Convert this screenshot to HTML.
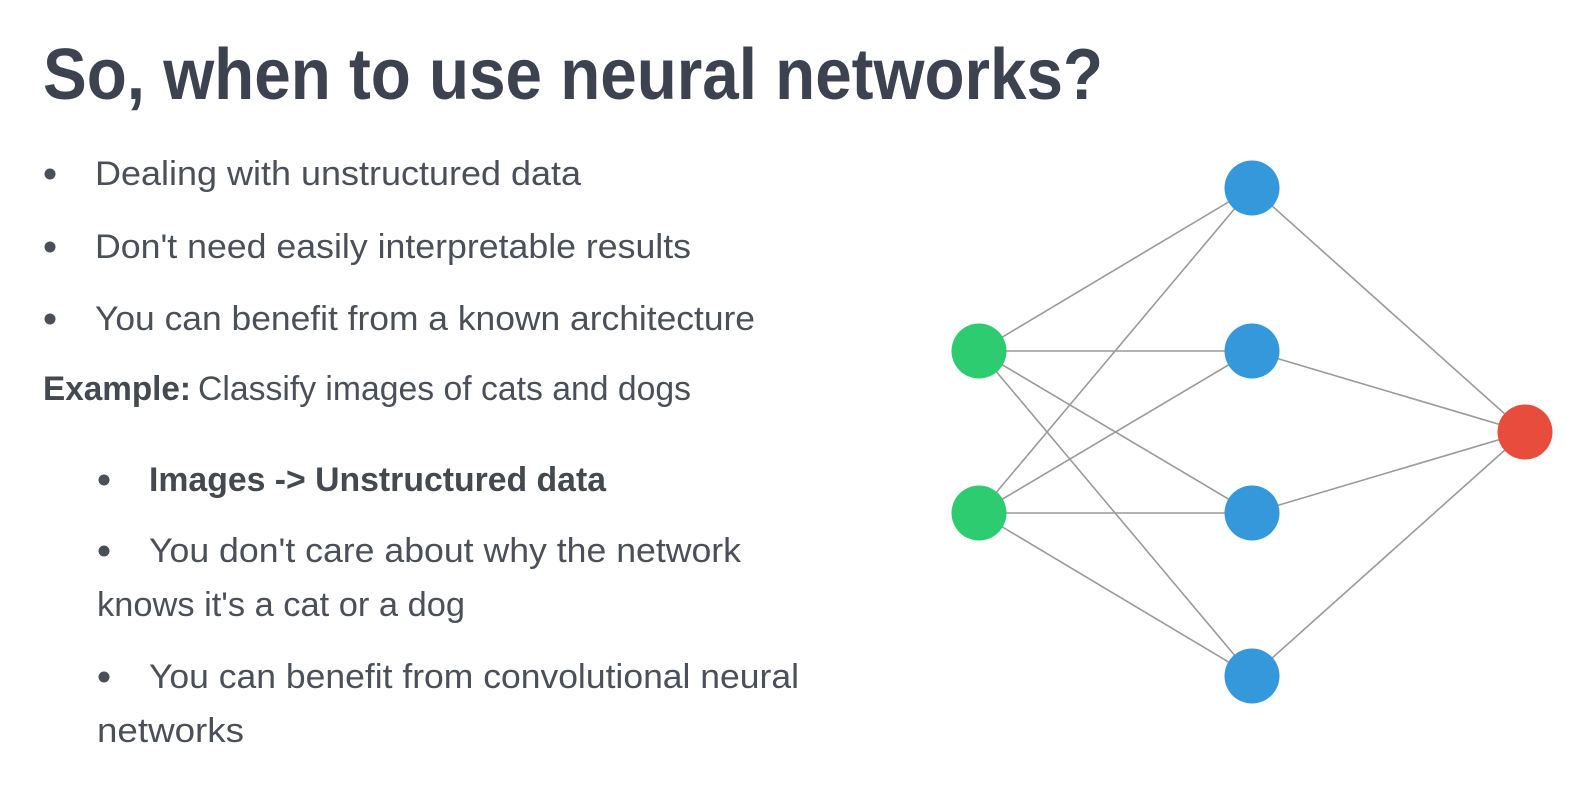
<!DOCTYPE html>
<html>
<head>
<meta charset="utf-8">
<style>
  html, body { margin: 0; padding: 0; background: #ffffff; }
  body { width: 1594px; height: 798px; overflow: hidden; }
  svg { display: block; }
  .title { font-family: "Liberation Sans", sans-serif; font-weight: bold; font-size: 72px; fill: #3c4250; }
  .body { font-family: "Liberation Sans", sans-serif; font-size: 34px; fill: #4b5058; }
  .bold { font-weight: bold; fill: #44494f; }
</style>
</head>
<body>
<svg width="1594" height="798" viewBox="0 0 1594 798" xmlns="http://www.w3.org/2000/svg">
  <rect width="1594" height="798" fill="#ffffff"/>

  <!-- Title -->
  <text class="title" x="43" y="99" textLength="1060" lengthAdjust="spacingAndGlyphs">So, when to use neural networks?</text>

  <!-- Bullets -->
  <circle cx="50" cy="174" r="5.5" fill="#4b5058"/>
  <text class="body" x="95" y="185" textLength="486" lengthAdjust="spacingAndGlyphs">Dealing with unstructured data</text>

  <circle cx="50" cy="247" r="5.5" fill="#4b5058"/>
  <text class="body" x="95" y="258" textLength="596" lengthAdjust="spacingAndGlyphs">Don't need easily interpretable results</text>

  <circle cx="50" cy="319" r="5.5" fill="#4b5058"/>
  <text class="body" x="95" y="330" textLength="660" lengthAdjust="spacingAndGlyphs">You can benefit from a known architecture</text>

  <text class="body bold" x="43" y="400" textLength="148" lengthAdjust="spacingAndGlyphs">Example:</text>
  <text class="body" x="198" y="400" textLength="493" lengthAdjust="spacingAndGlyphs">Classify images of cats and dogs</text>

  <!-- Sub bullets -->
  <circle cx="104" cy="480" r="5.5" fill="#4b5058"/>
  <text class="body bold" x="149" y="491" textLength="457" lengthAdjust="spacingAndGlyphs">Images -&gt; Unstructured data</text>

  <circle cx="104" cy="551" r="5.5" fill="#4b5058"/>
  <text class="body" x="149" y="562" textLength="592" lengthAdjust="spacingAndGlyphs">You don't care about why the network</text>
  <text class="body" x="97" y="616" textLength="368" lengthAdjust="spacingAndGlyphs">knows it's a cat or a dog</text>

  <circle cx="104" cy="677" r="5.5" fill="#4b5058"/>
  <text class="body" x="149" y="688" textLength="650" lengthAdjust="spacingAndGlyphs">You can benefit from convolutional neural</text>
  <text class="body" x="97" y="742" textLength="147" lengthAdjust="spacingAndGlyphs">networks</text>

  <!-- Network edges -->
  <g stroke="#9a9a9a" stroke-width="1.6" fill="none">
    <line x1="979" y1="351" x2="1252" y2="188"/>
    <line x1="979" y1="351" x2="1252" y2="351"/>
    <line x1="979" y1="351" x2="1252" y2="513"/>
    <line x1="979" y1="351" x2="1252" y2="676"/>
    <line x1="979" y1="513" x2="1252" y2="188"/>
    <line x1="979" y1="513" x2="1252" y2="351"/>
    <line x1="979" y1="513" x2="1252" y2="513"/>
    <line x1="979" y1="513" x2="1252" y2="676"/>
    <line x1="1252" y1="188" x2="1525" y2="432"/>
    <line x1="1252" y1="351" x2="1525" y2="432"/>
    <line x1="1252" y1="513" x2="1525" y2="432"/>
    <line x1="1252" y1="676" x2="1525" y2="432"/>
  </g>

  <!-- Nodes -->
  <circle cx="979" cy="351" r="27.5" fill="#2ecc71"/>
  <circle cx="979" cy="513" r="27.5" fill="#2ecc71"/>
  <circle cx="1252" cy="188" r="27.5" fill="#3498db"/>
  <circle cx="1252" cy="351" r="27.5" fill="#3498db"/>
  <circle cx="1252" cy="513" r="27.5" fill="#3498db"/>
  <circle cx="1252" cy="676" r="27.5" fill="#3498db"/>
  <circle cx="1525" cy="432" r="27.5" fill="#e74c3c"/>
</svg>
</body>
</html>
